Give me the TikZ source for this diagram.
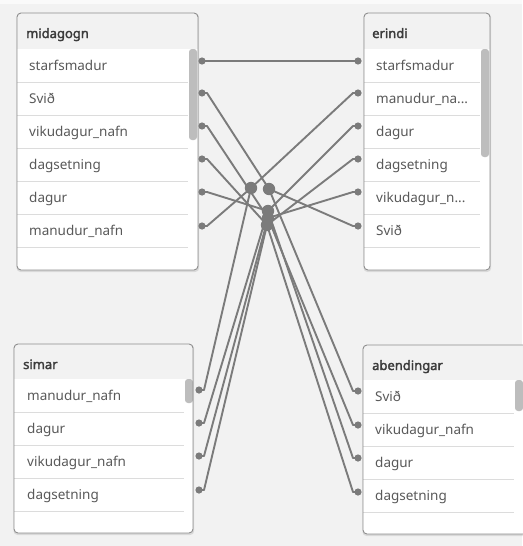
\documentclass[tikz,border=0pt]{standalone}
\usepackage{fontspec}
\setmainfont{Noto Sans}
\newfontfamily\titlefont{Noto Sans}[FakeBold=2.2]
\definecolor{bgc}{HTML}{F2F2F2}
\definecolor{topc}{HTML}{FAFAFA}
\definecolor{headc}{HTML}{F2F2F2}
\definecolor{framec}{HTML}{8E8E8E}
\definecolor{sepc}{HTML}{DCDCDC}
\definecolor{barc}{HTML}{BDBDBD}
\definecolor{linec}{HTML}{7B7B7B}
\definecolor{titlec}{HTML}{3C3C3C}
\definecolor{fieldc}{HTML}{595959}

% #1 name, #2 x1, #3 y1, #4 x2, #5 y2, #6 header bottom, #7 separator end, #8 scrollbar bottom, #9 title
\newcommand\qtable[9]{%
  \fill[black, opacity=0.10, rounded corners=4pt] ({#2-0.5},{#3+0.5}) rectangle ({#4+1.2},{#5+2});
  \begin{scope}
    \clip[rounded corners=4pt] (#2,#3) rectangle (#4,#5);
    \fill[white] (#2,#3) rectangle (#4,#5);
    \fill[headc] (#2,#3) rectangle (#4,#6);
    \foreach \k in {1,...,6} {\draw[sepc, line width=1pt] (#2,{#6+33*\k}) -- (#7,{#6+33*\k});}
    \fill[barc, rounded corners=3pt] ({#7+1},#6) rectangle ({#7+9},#8);
  \end{scope}
  \draw[framec, line width=0.9pt, rounded corners=4pt] (#2,#3) rectangle (#4,#5);
}

\begin{document}
\begin{tikzpicture}[x=1pt,y=-1pt,
  titletext/.style={anchor=base west, inner sep=0pt, text=titlec, font=\titlefont\fontsize{13}{15}\selectfont},
  fieldtext/.style={anchor=base west, inner sep=0pt, text=fieldc, font=\fontsize{13.5}{16}\selectfont},
  conn/.style={draw=linec, line width=1.9pt, line join=round, line cap=round},
  enddot/.style={fill=linec},
  hubdot/.style={fill=linec}]

\fill[bgc] (0,0) rectangle (522,546);
\fill[topc] (0,0) rectangle (522,4);
\useasboundingbox (0,0) rectangle (522,546);

% tables
\qtable{midagogn}{17}{13}{198}{270}{49}{188}{140}{midagogn}
\qtable{erindi}{364}{13}{490}{270}{49}{480}{157}{erindi}
\qtable{simar}{14}{344}{193}{533}{379}{184}{403}{simar}
\qtable{abendingar}{363}{345}{532}{534}{380}{514}{411}{abendingar}

% table titles
\node[titletext] (t-mid) at (26,38) {midagogn};
\node[titletext] (t-eri) at (372,38) {erindi};
\node[titletext] (t-sim) at (23,369) {simar};
\node[titletext] (t-abe) at (372,370) {abendingar};

% field names
\node[fieldtext] (f-m1) at (29,70) {starfsmadur};
\node[fieldtext] (f-m2) at (29,103) {Svið};
\node[fieldtext] (f-m3) at (29,136) {vikudagur\_nafn};
\node[fieldtext] (f-m4) at (29,169) {dagsetning};
\node[fieldtext] (f-m5) at (29,202) {dagur};
\node[fieldtext] (f-m6) at (29,235) {manudur\_nafn};

\node[fieldtext] (f-e1) at (376,70) {starfsmadur};
\node[fieldtext] (f-e2) at (376,103) {manudur\_na...};
\node[fieldtext] (f-e3) at (376,136) {dagur};
\node[fieldtext] (f-e4) at (376,169) {dagsetning};
\node[fieldtext] (f-e5) at (376,202) {vikudagur\_n...};
\node[fieldtext] (f-e6) at (376,235) {Svið};

\node[fieldtext] (f-s1) at (27,400) {manudur\_nafn};
\node[fieldtext] (f-s2) at (27,433) {dagur};
\node[fieldtext] (f-s3) at (27,466) {vikudagur\_nafn};
\node[fieldtext] (f-s4) at (27,499) {dagsetning};

\node[fieldtext] (f-a1) at (375,401) {Svið};
\node[fieldtext] (f-a2) at (375,434) {vikudagur\_nafn};
\node[fieldtext] (f-a3) at (375,467) {dagur};
\node[fieldtext] (f-a4) at (375,500) {dagsetning};

% link end points
\coordinate (m-starf) at (202,61);
\coordinate (m-svid)  at (202,93);
\coordinate (m-viku)  at (202,126);
\coordinate (m-dags)  at (202,159);
\coordinate (m-dagur) at (202,192);
\coordinate (m-manu)  at (202,226);

\coordinate (e-starf) at (358,61);
\coordinate (e-manu)  at (358,93);
\coordinate (e-dagur) at (358,126);
\coordinate (e-dags)  at (358,159);
\coordinate (e-viku)  at (358,192);
\coordinate (e-svid)  at (358,226);

\coordinate (s-manu)  at (199,390);
\coordinate (s-dagur) at (199,423);
\coordinate (s-viku)  at (199,456);
\coordinate (s-dags)  at (199,490);

\coordinate (a-svid)  at (358,391);
\coordinate (a-viku)  at (358,425);
\coordinate (a-dagur) at (358,458);
\coordinate (a-dags)  at (358,492);

% shared-field hubs
\coordinate (j-manu)  at (251,188);
\coordinate (j-svid)  at (269,189);
\coordinate (j-dagur) at (268,211);
\coordinate (j-viku)  at (268,218);
\coordinate (j-dags)  at (267,225);

% connectors
\draw[conn] (m-starf) -- (e-starf);

\foreach \f in {svid,viku,dags,dagur,manu}
  \draw[conn] (m-\f) -- ++(5,0) -- (j-\f);
\foreach \f in {manu,dagur,dags,viku,svid}
  \draw[conn] (e-\f) -- ++(-5,0) -- (j-\f);
\foreach \f in {manu,dagur,viku,dags}
  \draw[conn] (s-\f) -- ++(5,0) -- (j-\f);
\foreach \f in {svid,viku,dagur,dags}
  \draw[conn] (a-\f) -- ++(-5,0) -- (j-\f);

% dots
\foreach \p in {m-starf,m-svid,m-viku,m-dags,m-dagur,m-manu,
                e-starf,e-manu,e-dagur,e-dags,e-viku,e-svid,
                s-manu,s-dagur,s-viku,s-dags,
                a-svid,a-viku,a-dagur,a-dags}
  \fill[enddot] (\p) circle (3.6);
\foreach \p in {j-manu,j-svid,j-dagur,j-viku,j-dags}
  \fill[hubdot] (\p) circle (6.2);
\end{tikzpicture}
\end{document}
